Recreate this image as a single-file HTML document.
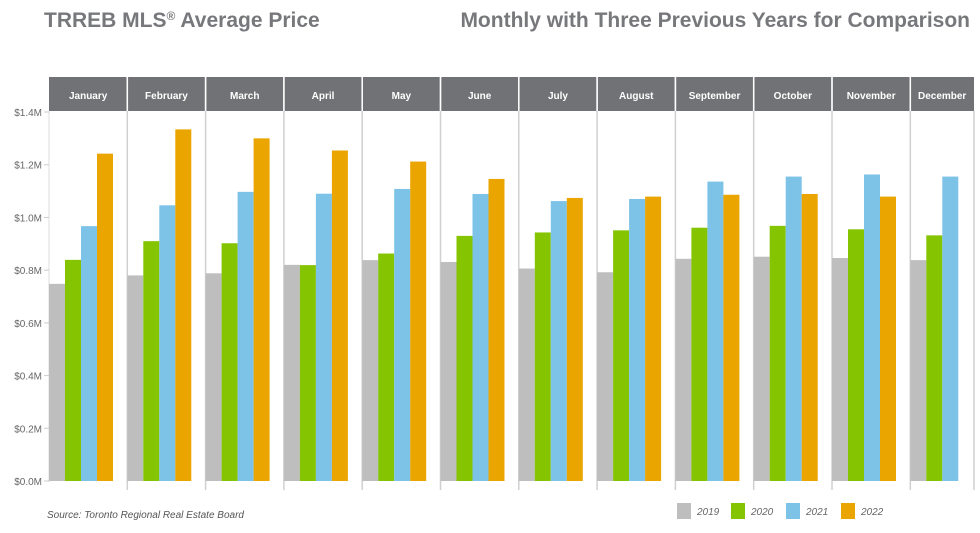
<!DOCTYPE html>
<html><head><meta charset="utf-8"><style>
body{margin:0;background:#fff;font-family:"Liberation Sans",Arial,sans-serif;}
svg text{font-family:"Liberation Sans",Arial,sans-serif;}
</style></head><body>
<svg id="chart" width="980" height="528" xmlns="http://www.w3.org/2000/svg">
<text x="44" y="27" font-size="21" font-weight="bold" fill="#77787b">TRREB MLS<tspan font-size="12" dy="-7">®</tspan><tspan dy="7"> Average Price</tspan></text>
<text x="970" y="27" font-size="21" font-weight="bold" fill="#77787b" text-anchor="end">Monthly with Three Previous Years for Comparison</text>
<g id="plot"></g>
<text x="47" y="518" font-size="10" font-style="italic" fill="#555">Source: Toronto Regional Real Estate Board</text>
<g id="legend"></g>
</svg>
<script>
const months=["January","February","March","April","May","June","July","August","September","October","November","December"];
const years=["2019","2020","2021","2022"];
const colors=["#bdbebd","#84c400","#7dc3e8","#eba500"];
const v2019=[748,780,788,820,838,831,806,792,843,851,846,838];
const v2020=[839,910,902,819,863,930,943,951,961,968,955,932];
const v2021=[967,1046,1097,1090,1108,1089,1062,1070,1136,1155,1163,1155];
const v2022=[1242,1334,1300,1254,1212,1146,1074,1079,1086,1089,1079,null];
const ticks=[0,200,400,600,800,1000,1200,1400];
const tickLabels=["$0.0M","$0.2M","$0.4M","$0.6M","$0.8M","$1.0M","$1.2M","$1.4M"];
const series=[v2019,v2020,v2021,v2022];
const NS="http://www.w3.org/2000/svg";
const x0=49,pw=78.3,right=974,y0=481,yTop=112;
const yScale=v=>y0-(v/1400)*(y0-yTop);
const g=document.getElementById('plot');
function el(t,a,p){const e=document.createElementNS(NS,t);for(const k in a)e.setAttribute(k,a[k]);(p||g).appendChild(e);return e;}
// header
const hdr=el('rect',{x:x0,y:77,width:right-x0,height:34,fill:'#707275'});


months.forEach((m,i)=>{
  const px=x0+i*pw;const w=Math.min(pw,right-px);
  const t=el('text',{x:px+w/2,y:99,'font-size':10,'font-weight':'bold',fill:'#fff','text-anchor':'middle'});
  t.textContent=m;
  
  
  if(i>0){const s=el('line',{x1:px,x2:px,y1:77,y2:490,stroke:i>0?'#d0d0d0':'#ccc','stroke-width':1.5});
    
    
    el('line',{x1:px,x2:px,y1:77,y2:111,stroke:'#fff','stroke-width':1.5});}
});
el('line',{x1:right,x2:right,y1:111,y2:490,stroke:'#d0d0d0','stroke-width':1.5});
el('line',{x1:x0,x2:x0,y1:111,y2:482,stroke:'#ddd','stroke-width':1});
// y axis
ticks.forEach((t,i)=>{
  const y=yScale(t);
  const lb=el('text',{x:42,y:y+4,'font-size':10,fill:'#666','text-anchor':'end'});
  lb.textContent=tickLabels[i];
  
  
  el('line',{x1:44,x2:49,y1:y,y2:y,stroke:'#ccc'});
});
// bars
const bw=16;
months.forEach((m,i)=>{
  series.forEach((s,j)=>{
    const v=s[i];if(v==null)return;
    const y=yScale(v);
    const r=el('rect',{x:x0+i*pw+j*bw,y:y,width:bw,height:y0-y,fill:colors[j]});
    
    
  });
});
// legend
const lg=document.getElementById('legend');
const lx=[677,731,786,841];
years.forEach((yr,j)=>{
  const r=el('rect',{x:lx[j],y:503,width:14,height:16,fill:colors[j]},lg);
  
  
  const t=el('text',{x:lx[j]+20,y:515,'font-size':10,'font-style':'italic',fill:'#666'},lg);
  t.textContent=yr;
  
  
});
</script>
</body></html>
